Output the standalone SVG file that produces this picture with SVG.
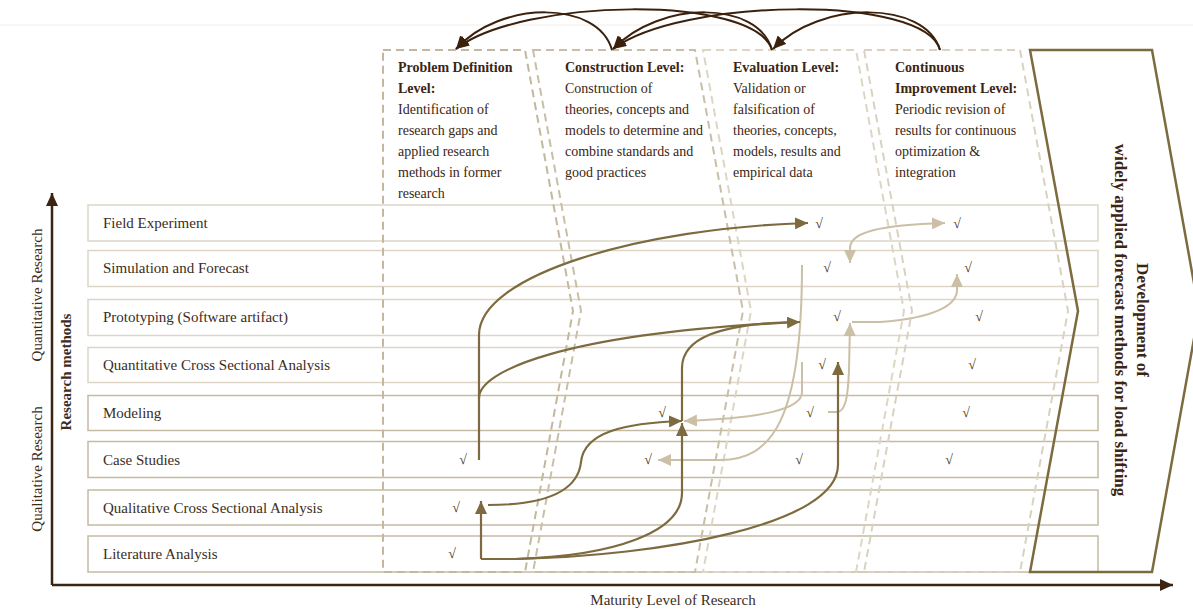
<svg xmlns="http://www.w3.org/2000/svg" width="1193" height="612" viewBox="0 0 1193 612">
<style>
.row{fill:#fff;stroke-width:1.5}
.rl{stroke:#ddd6c7}
.rd{stroke:#c5bba3}
.lbl{font-family:"Liberation Serif",serif;font-size:15px;fill:#3b2d1d}
.hd{font-family:"Liberation Serif",serif;font-size:14px;fill:#3b2614}
.b{font-weight:bold}
.ck{font-family:"Liberation Serif",serif;font-size:14px;fill:#4a3a20;text-anchor:middle}
.col{fill:none;stroke-width:2;stroke-dasharray:8 5}
.cd{stroke-width:2.2;fill:none;stroke:#7d6b3f}
.cl{stroke-width:2;fill:none;stroke:#cbbfa5}
.ca{stroke-width:2;fill:none;stroke:#3b200c}
.ax{stroke:#3b2412;stroke-width:2.5;fill:none}
.big{font-family:"Liberation Serif",serif;font-size:17px;font-weight:bold;fill:#3b2614;text-anchor:middle}
</style>
<defs>
<marker id="ad" viewBox="0 0 13 12" refX="13" refY="6" markerWidth="13" markerHeight="12" markerUnits="userSpaceOnUse" orient="auto-start-reverse"><path d="M0,0 L13,6 L0,12 z" fill="#7d6b3f"/></marker>
<marker id="al" viewBox="0 0 13 12" refX="13" refY="6" markerWidth="13" markerHeight="12" markerUnits="userSpaceOnUse" orient="auto-start-reverse"><path d="M0,0 L13,6 L0,12 z" fill="#cbbfa5"/></marker>
<marker id="ab" viewBox="0 0 13 12" refX="13" refY="6" markerWidth="13" markerHeight="12" markerUnits="userSpaceOnUse" orient="auto"><path d="M0,0 L13,6 L0,12 z" fill="#3b200c"/></marker>
<marker id="ax" viewBox="0 0 13 12" refX="13" refY="6" markerWidth="13" markerHeight="12" markerUnits="userSpaceOnUse" orient="auto"><path d="M0,0 L13,6 L0,12 z" fill="#3b2412"/></marker>
</defs>
<rect width="1193" height="612" fill="#fff"/>
<line x1="0" y1="25" x2="1193" y2="25" stroke="#f1eeea" stroke-width="1"/>

<g id="rows">
<g id="row-field"><rect class="row rl" x="88" y="205" width="1010" height="36"/><text class="lbl" x="103" y="228">Field Experiment</text></g>
<g id="row-sim"><rect class="row rl" x="88" y="250.5" width="1010" height="36"/><text class="lbl" x="103" y="273">Simulation and Forecast</text></g>
<g id="row-proto"><rect class="row rl" x="88" y="299.5" width="1010" height="36"/><text class="lbl" x="103" y="322">Prototyping (Software artifact)</text></g>
<g id="row-quant"><rect class="row rl" x="88" y="347.5" width="1010" height="35"/><text class="lbl" x="103" y="370">Quantitative Cross Sectional Analysis</text></g>
<g id="row-model"><rect class="row rd" x="88" y="395.5" width="1010" height="35"/><text class="lbl" x="103" y="418">Modeling</text></g>
<g id="row-case"><rect class="row rd" x="88" y="441.5" width="1010" height="36"/><text class="lbl" x="103" y="464.5">Case Studies</text></g>
<g id="row-qual"><rect class="row rd" x="88" y="490" width="1010" height="35"/><text class="lbl" x="103" y="512.5">Qualitative Cross Sectional Analysis</text></g>
<g id="row-lit"><rect class="row rd" x="88" y="536" width="1010" height="36"/><text class="lbl" x="103" y="559">Literature Analysis</text></g>
</g>

<g id="columns">
<g id="col-problem"><path class="col" stroke="#c3b89d" d="M383,50 L525,50 L573,311 L525,572 L383,572 Z"/>
<text class="hd b" x="398" y="72">Problem Definition</text>
<text class="hd b" x="398" y="93">Level:</text>
<text class="hd" x="398" y="114">Identification of</text>
<text class="hd" x="398" y="135">research gaps and</text>
<text class="hd" x="398" y="156">applied research</text>
<text class="hd" x="398" y="177">methods in former</text>
<text class="hd" x="398" y="198">research</text></g>
<g id="col-construction"><path class="col" stroke="#c9bfa6" d="M533,50 L695,50 L743,311 L695,572 L533,572 L581,311 Z"/>
<text class="hd b" x="565" y="72">Construction Level:</text>
<text class="hd" x="565" y="93">Construction of</text>
<text class="hd" x="565" y="114">theories, concepts and</text>
<text class="hd" x="565" y="135">models to determine and</text>
<text class="hd" x="565" y="156">combine standards and</text>
<text class="hd" x="565" y="177">good practices</text></g>
<g id="col-evaluation"><path class="col" stroke="#ddd6c5" d="M703,50 L856,50 L904,311 L856,572 L703,572 L751,311 Z"/>
<text class="hd b" x="733" y="72">Evaluation Level:</text>
<text class="hd" x="733" y="93">Validation or</text>
<text class="hd" x="733" y="114">falsification of</text>
<text class="hd" x="733" y="135">theories, concepts,</text>
<text class="hd" x="733" y="156">models, results and</text>
<text class="hd" x="733" y="177">empirical data</text></g>
<g id="col-continuous"><path class="col" stroke="#d9d2c0" d="M864,50 L1020,50 L1068,311 L1020,572 L864,572 L912,311 Z"/>
<text class="hd b" x="895" y="72">Continuous</text>
<text class="hd b" x="895" y="93">Improvement Level:</text>
<text class="hd" x="895" y="114">Periodic revision of</text>
<text class="hd" x="895" y="135">results for continuous</text>
<text class="hd" x="895" y="156">optimization &amp;</text>
<text class="hd" x="895" y="177">integration</text></g>
</g>

<g id="goal">
<path d="M1030,50 L1152,50 L1199,311 L1152,572 L1030,572 L1078,311 Z" fill="none" stroke="#7d6b3f" stroke-width="2.5"/>
<text class="big" transform="translate(1137,320) rotate(90)">Development of</text>
<text class="big" transform="translate(1115,320) rotate(90)">widely applied forecast methods for load shifting</text>
</g>

<g id="checks">
<text class="ck" x="819" y="228">√</text><text class="ck" x="957" y="228">√</text>
<text class="ck" x="827" y="272">√</text><text class="ck" x="968" y="272">√</text>
<text class="ck" x="837" y="321">√</text><text class="ck" x="979" y="321">√</text>
<text class="ck" x="822" y="369">√</text><text class="ck" x="972" y="369">√</text>
<text class="ck" x="662" y="417">√</text><text class="ck" x="810" y="417">√</text><text class="ck" x="966" y="417">√</text>
<text class="ck" x="463" y="464">√</text><text class="ck" x="648" y="464">√</text><text class="ck" x="799" y="464">√</text><text class="ck" x="949" y="464">√</text>
<text class="ck" x="456" y="512">√</text>
<text class="ck" x="452" y="558">√</text>
</g>

<g id="connectors">
<path class="cl" d="M850,263 V248 C850,232 880,225 945,223" marker-start="url(#al)" marker-end="url(#al)"/>
<path class="cl" d="M828,412 H838 C846,410 848,395 849,370 L850,323" marker-end="url(#al)"/>
<path class="cl" d="M852,322 H880 C935,318 957,305 957,290 V274" marker-end="url(#al)"/>
<path class="cl" d="M802,265 C802,420 772,460 720,460 H658" marker-end="url(#al)"/>
<path class="cl" d="M802,362 V392 C802,410 760,418 684,421" marker-end="url(#al)"/>
<path class="cd" d="M479,460 V335 C479,275 640,228 808,223" marker-end="url(#ad)"/>
<path class="cd" d="M479,398 C479,372 560,333 800,322" marker-end="url(#ad)"/>
<path class="cd" d="M682,421 V368 C682,338 720,324 792,322"/>
<path class="cd" d="M481,559 V501" marker-end="url(#ad)"/>
<path class="cd" d="M488,505 C548,505 578,490 581,462 C584,432 625,423 682,421" marker-end="url(#ad)"/>
<path class="cd" d="M481,559 H515 C615,556 682,532 682,493 V423" marker-end="url(#ad)"/>
<path class="cd" d="M481,559 H515 C660,556 838,525 838,465 V362" marker-end="url(#ad)"/>
<path class="ca" d="M612,50 C598,0 500,0 456,49" marker-end="url(#ab)"/>
<path class="ca" d="M772,50 C755,-6 520,-2 456,49" marker-end="url(#ab)"/>
<path class="ca" d="M772,50 C758,0 660,0 613,49" marker-end="url(#ab)"/>
<path class="ca" d="M940,50 C925,-6 680,-2 613,49" marker-end="url(#ab)"/>
<path class="ca" d="M940,50 C925,0 820,0 773,49" marker-end="url(#ab)"/>
</g>

<g id="axes">
<path class="ax" d="M52,585 V193" marker-end="url(#ax)"/>
<path class="ax" d="M52,585 H1173" marker-end="url(#ax)"/>
<text class="lbl" transform="translate(42,295) rotate(-90)" text-anchor="middle">Quantitative Research</text>
<text class="lbl" transform="translate(42,469) rotate(-90)" text-anchor="middle">Qualitative Research</text>
<text class="lbl b" transform="translate(71,372) rotate(-90)" text-anchor="middle">Research methods</text>
<text class="lbl" x="673" y="605" text-anchor="middle">Maturity Level of Research</text>
</g>
</svg>
